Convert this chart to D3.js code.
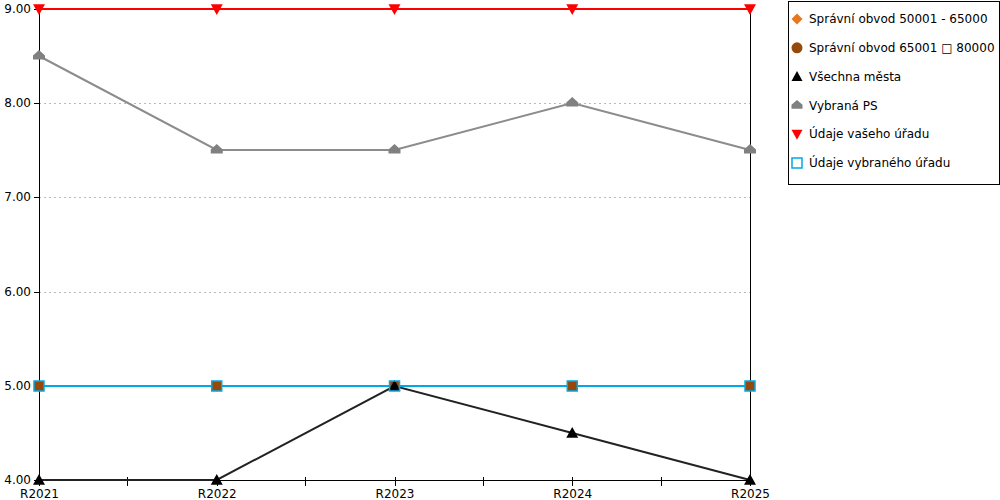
<!DOCTYPE html>
<html>
<head>
<meta charset="utf-8">
<script src="https://cdn.jsdelivr.net/npm/d3@7"></script>
<style>
  body { margin: 0; background: #fff; }
  svg { font-family: "DejaVu Sans", Verdana, sans-serif; }
  .crisp line, .crisp path, line.crisp { shape-rendering: crispEdges; }
</style>
</head>
<body>
<div id="chart"></div>
<script>
const categories = ["R2021", "R2022", "R2023", "R2024", "R2025"];
const yTicks = [4, 5, 6, 7, 8, 9];

const obvod50 = [5, 5, 5, 5, 5];
const obvod65 = [5, 5, 5, 5, 5];
const vsechnaMesta = [4, 4, 5, 4.5, 4];
const vybranaPS = [8.5, 7.5, 7.5, 8, 7.5];
const vasUrad = [9, 9, 9, 9, 9];
const vybranyUrad = [5, 5, 5, 5, 5];

const seriesNames = [
  "Správní obvod 50001 - 65000",
  "Správní obvod 65001 \u25A1 80000",
  "Všechna města",
  "Vybraná PS",
  "Údaje vašeho úřadu",
  "Údaje vybraného úřadu"
];

const series = [
  { name: seriesNames[0], values: obvod50, color: "#e8761c", marker: "diamond" },
  { name: seriesNames[1], values: obvod65, color: "#964a0a", marker: "circle", plotMarker: "filledSquare" },
  { name: seriesNames[2], values: vsechnaMesta, color: "#000000", line: "#222222", marker: "triangle" },
  { name: seriesNames[3], values: vybranaPS, color: "#808080", line: "#8c8c8c", marker: "house" },
  { name: seriesNames[4], values: vasUrad, color: "#ff0000", marker: "triangleDown" },
  { name: seriesNames[5], values: vybranyUrad, color: "#00a8e8", marker: "square" }
];

const width = 1000, height = 500;
const plotLeft = 39, plotRight = 750, plotTop = 9, plotBottom = 480;

const svg = d3.select("#chart").append("svg")
  .attr("width", width)
  .attr("height", height);

const x = d3.scalePoint().domain(categories).range([plotLeft, plotRight]);
const y = d3.scaleLinear().domain([4, 9]).rangeRound([plotBottom, plotTop]);

// grid
svg.append("g")
  .attr("class", "crisp")
  .selectAll("line")
  .data(yTicks.filter(t => t > 4 && t < 9))
  .join("line")
  .attr("x1", plotLeft).attr("x2", plotRight)
  .attr("y1", d => y(d)).attr("y2", d => y(d))
  .attr("stroke", "#bbb")
  .attr("stroke-dasharray", "2,3");

// y axis
svg.append("g")
  .attr("class", "crisp")
  .attr("transform", `translate(${plotLeft},0)`)
  .call(d3.axisLeft(y).tickValues(yTicks).tickFormat(d3.format(".2f")).tickSize(5).tickPadding(3))
  .call(g => g.select(".domain").attr("stroke", "#000"))
  .call(g => g.selectAll("text").attr("font-size", 12).attr("fill", "#000").attr("font-family", "DejaVu Sans"));

// right border
svg.append("line")
  .attr("class", "crisp")
  .attr("x1", plotRight).attr("x2", plotRight)
  .attr("y1", plotTop).attr("y2", plotBottom)
  .attr("stroke", "#000");

// x axis
svg.append("g")
  .attr("class", "crisp")
  .attr("transform", `translate(0,${plotBottom})`)
  .call(d3.axisBottom(x).tickSize(6).tickPadding(3).tickSizeOuter(0))
  .call(g => g.select(".domain").attr("stroke", "#000"))
  .call(g => g.selectAll(".tick line").attr("y1", -3))
  .call(g => g.selectAll("text").attr("font-size", 12).attr("fill", "#000").attr("font-family", "DejaVu Sans"));

// minor ticks between categories
const mids = categories.slice(1).map((c, i) => (x(c) + x(categories[i])) / 2);
svg.append("g")
  .attr("class", "crisp")
  .selectAll("line")
  .data(mids)
  .join("line")
  .attr("x1", d => d).attr("x2", d => d)
  .attr("y1", plotBottom - 3).attr("y2", plotBottom + 6)
  .attr("stroke", "#000");

function markerPath(type, s) {
  const h = s / 2;
  switch (type) {
    case "diamond": return `M0,${-h}L${h},0L0,${h}L${-h},0Z`;
    case "circle": return d3.symbol(d3.symbolCircle, Math.PI * h * h)();
    case "triangle": return `M0,${-h}L${h},${h * 0.8}L${-h},${h * 0.8}Z`;
    case "triangleDown": return `M${-h},${-h * 0.8}L${h},${-h * 0.8}L0,${h}Z`;
    case "house": return `M0,${-h}L${h},${-h * 0.1}L${h},${h * 0.6}L${-h},${h * 0.6}L${-h},${-h * 0.1}Z`;
    case "square":
    case "filledSquare": return `M${-h},${-h}L${h},${-h}L${h},${h}L${-h},${h}Z`;
  }
}

const line = d3.line()
  .x((d, i) => x(categories[i]))
  .y(d => y(d));

const sizes = { diamond: 11, filledSquare: 10, circle: 11, triangle: 12, triangleDown: 12, house: 12, square: 10 };

// lines first, then markers on top
const lineLayer = svg.append("g");
const markerLayer = svg.append("g");

series.forEach(s => {
  const m = s.plotMarker || s.marker;
  lineLayer.append("path")
    .attr("d", line(s.values))
    .attr("fill", "none")
    .attr("stroke", s.line || s.color)
    .attr("stroke-width", 2);
  markerLayer.append("g")
    .selectAll("path")
    .data(s.values)
    .join("path")
    .attr("transform", (d, i) => `translate(${x(categories[i])},${y(d)})`)
    .attr("d", markerPath(m, sizes[m]))
    .attr("fill", m === "square" ? "none" : s.color)
    .attr("stroke", m === "square" ? s.color : "none")
    .attr("stroke-width", 1.5);
});

// legend
const legend = svg.append("g");
legend.append("rect")
  .style("shape-rendering", "crispEdges")
  .attr("x", 788).attr("y", 1)
  .attr("width", 211).attr("height", 183)
  .attr("fill", "#fff")
  .attr("stroke", "#000");

const ly = d3.scalePoint().domain(seriesNames).range([19, 163]);
const items = legend.selectAll("g.item")
  .data(series)
  .join("g")
  .attr("class", "item")
  .attr("transform", d => `translate(797,${ly(d.name)})`);
items.append("path")
  .attr("d", d => markerPath(d.marker, d.marker === "square" ? 10 : 11))
  .attr("fill", d => d.marker === "square" ? "#fff" : d.color)
  .attr("stroke", d => d.marker === "square" ? d.color : "none")
  .attr("stroke-width", 1.5);
items.append("text")
  .attr("x", 12)
  .attr("dy", "0.35em")
  .attr("font-size", 12)
  .attr("fill", "#000")
  .text(d => d.name);
</script>
</body>
</html>
